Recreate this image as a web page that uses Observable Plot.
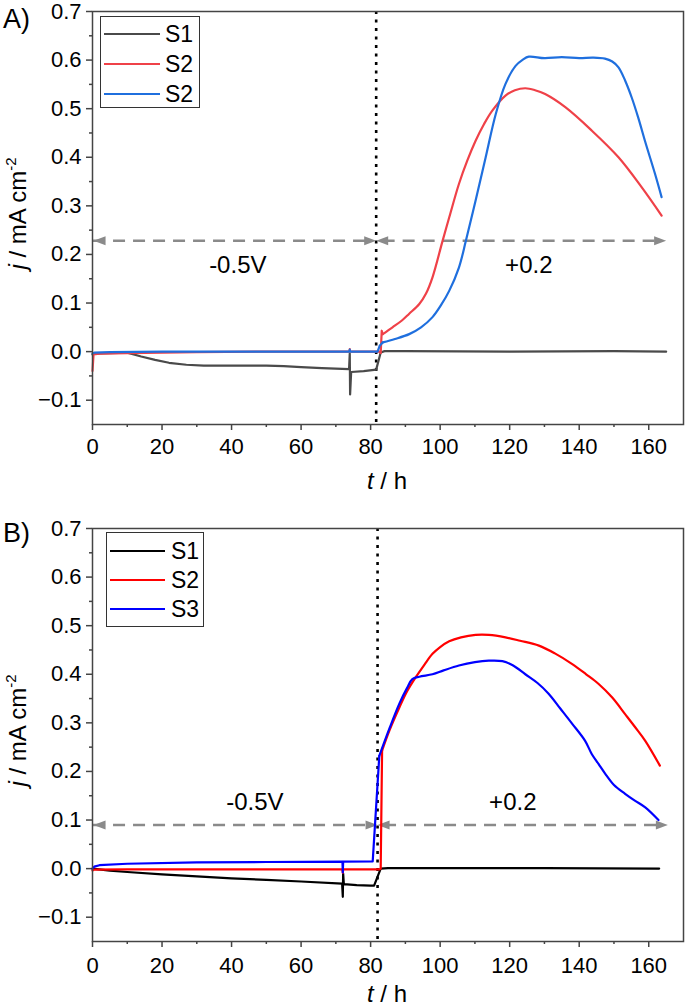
<!DOCTYPE html>
<html><head><meta charset="utf-8">
<script src="https://cdn.jsdelivr.net/npm/d3@7"></script>
<script src="https://cdn.jsdelivr.net/npm/@observablehq/plot@0.6"></script>
<style>
body{margin:0;background:#fff;font-family:"Liberation Sans",Arial,sans-serif;}
#wrap{position:relative;width:685px;height:1008px;overflow:hidden;}
.panel{position:absolute;left:0;width:685px;height:504px;}
.panel svg{overflow:visible;}
.plabel{position:absolute;left:3px;font-size:27px;line-height:1;color:#000;}
.legend{position:absolute;border:1.5px solid #333;background:#fff;box-sizing:border-box;}
.sw{position:absolute;height:2px;}
.lt{position:absolute;font-size:23px;line-height:1;transform:translateY(-50%);color:#000;}
</style></head>
<body><div id="wrap"></div>
<script>
// ---------- Panel A data ----------
const tA_S1 = [0,0.5,5,10,14,18,22,27,32,40,50,55,60,66,73.8,74,74.1,74.4,78,81.6,82.9,84,90,120,150,165];
const jA_S1 = [-0.006,-0.004,-0.003,-0.002,-0.01,-0.017,-0.023,-0.027,-0.029,-0.029,-0.029,-0.03,-0.032,-0.034,-0.036,-0.004,-0.088,-0.042,-0.04,-0.037,-0.002,0.001,0.001,0.0,0.001,0.0];
const tA_S2 = [0,0.3,2,10,30,50,73.9,74,74.1,82.5,82.9,83.2,83.5,86.3,89,91.1,94,95.9,97.8,100.7,102.6,105.4,107.8,110.2,112.6,115,118.8,121.5,124.5,127.3,130.2,136,143.6,151.3,158,163.7];
const jA_S2 = [-0.04,-0.006,-0.004,-0.003,-0.001,0,0,0.005,0,0,-0.003,0.043,0.036,0.05,0.064,0.078,0.098,0.119,0.153,0.228,0.276,0.345,0.393,0.434,0.468,0.496,0.527,0.538,0.542,0.538,0.53,0.503,0.455,0.4,0.338,0.28];
const tA_S3 = [0,0.5,5,20,50,73.9,74,74.1,82,82.6,83.5,87,91.1,94.5,97.8,100.2,102.6,105.4,107.4,110.2,113.1,116,118.8,121.7,123.8,125.5,130,135,140,144,147.4,149.5,151.3,153.2,155.1,157,158.9,161.8,163.7];
const jA_S3 = [-0.004,-0.002,-0.001,0,0,0,0.004,0,0,0.012,0.019,0.026,0.036,0.05,0.071,0.095,0.125,0.173,0.228,0.311,0.4,0.489,0.551,0.588,0.601,0.607,0.604,0.606,0.604,0.605,0.603,0.597,0.585,0.558,0.523,0.481,0.434,0.366,0.318];
const namesA = ["S1","S2","S2"];
const colorsA = ["#4a4a4a","#ef4148","#1f6fde"];
const smoothFromA = [Infinity, 83.5, 83.5];
const vlineA = 81.6;
const arrowA = {y:0.228, from:0.3, mid:81.6, to:165};
const annA = [{t:41.8, j:0.177, text:"-0.5V"},{t:125.5, j:0.177, text:"+0.2"}];

// ---------- Panel B data ----------
const tB_S1 = [0,5,10,20,30,40,50,60,71.8,72,72.1,72.3,76,80,81,82.9,85,100,130,163];
const jB_S1 = [0,-0.004,-0.007,-0.012,-0.016,-0.02,-0.023,-0.0265,-0.031,-0.058,-0.01,-0.032,-0.034,-0.035,-0.035,0,0.001,0.001,0.001,0.0];
const tB_S2 = [0,0.5,10,40,71.9,72,72.1,82.6,82.9,83.3,85.4,88.3,90.5,93,95.5,97.8,100,102.6,106,110.2,114,118.8,123,128.4,133,138,142,145.6,149.5,153.2,156,159,163.2];
const jB_S2 = [-0.004,-0.002,-0.0015,-0.0015,-0.0015,-0.009,-0.0015,-0.0015,0,0.243,0.284,0.332,0.365,0.394,0.42,0.442,0.456,0.468,0.476,0.481,0.481,0.476,0.469,0.459,0.443,0.421,0.4,0.38,0.352,0.318,0.292,0.263,0.212];
const tB_S3 = [0,0.5,2,10,30,50,71.9,72,72.1,80.6,82.5,85.5,88.3,90.5,92,94,97.8,101,105.4,110,114,117.9,121,124.5,128,131.2,134.5,138,141.7,143.6,145.6,147.5,150,153.2,156,159,162.8];
const jB_S3 = [0,0.004,0.007,0.01,0.013,0.0136,0.0143,-0.008,0.0143,0.015,0.232,0.29,0.34,0.372,0.39,0.395,0.4,0.408,0.418,0.425,0.428,0.427,0.418,0.4,0.382,0.36,0.33,0.298,0.263,0.236,0.215,0.195,0.172,0.154,0.14,0.126,0.1];
const namesB = ["S1","S2","S3"];
const colorsB = ["#000000","#ff0000","#0000ff"];
const smoothFromB = [Infinity, 83.3, 82.5];
const vlineB = 82;
const arrowB = {y:0.09, from:0.3, mid:82, to:165.5};
const annB = [{t:46.7, j:0.136, text:"-0.5V"},{t:120.9, j:0.136, text:"+0.2"}];

// ---------- Axes ----------
const xMajor = [0,20,40,60,80,100,120,140,160];
const xMinor = [10,30,50,70,90,110,130,150];
const yMajor = [-0.1,0,0.1,0.2,0.3,0.4,0.5,0.6,0.7];
const yMinor = [-0.05,0.05,0.15,0.25,0.35,0.45,0.55,0.65];

const pts = (t, j) => t.map((v, i) => ({t: v, j: j[i]}));
const arrowRight = {draw(ctx){ctx.moveTo(0,0);ctx.lineTo(-12,-4.5);ctx.lineTo(-12,4.5);ctx.closePath();}};
const arrowLeft = {draw(ctx){ctx.moveTo(0,0);ctx.lineTo(12,-4.5);ctx.lineTo(12,4.5);ctx.closePath();}};
const axisColor = "#444";

function seriesMarks(s, color, cut) {
  const data = pts(s[0], s[1]);
  const opts = {x: "t", y: "j", stroke: color, strokeWidth: 2.2, strokeLinejoin: "round", strokeLinecap: "round"};
  const marks = [Plot.line(data.filter(d => d.t <= cut), opts)];
  if (cut < Infinity) marks.push(Plot.line(data.filter(d => d.t >= cut), {...opts, curve: "catmull-rom"}));
  return marks;
}

function makePanel(cfg) {
  const series = cfg.series;
  const ar = cfg.arrow;
  const plot = Plot.plot({
    width: 685, height: 504,
    marginLeft: 92, marginRight: 2, marginTop: cfg.mt, marginBottom: cfg.mb,
    x: {domain: [0, 170]},
    y: {domain: [-0.15, 0.7]},
    style: {fontFamily: '"Liberation Sans", Arial, sans-serif', fontSize: "22px", color: "#000", background: "transparent", overflow: "visible"},
    marks: [
      Plot.axisY({ticks: yMajor, tickSize: 6, tickPadding: 5, tickFormat: d3.format(".1f"), label: null, stroke: axisColor, fill: "#000", strokeWidth: 1.5}),
      Plot.axisY({ticks: yMinor, tickSize: 3, tickFormat: () => "", label: null, stroke: axisColor, strokeWidth: 1.5}),
      Plot.axisX({ticks: xMajor, tickSize: 6, tickPadding: cfg.xpad, label: null, stroke: axisColor, fill: "#000", strokeWidth: 1.5}),
      Plot.axisX({ticks: xMinor, tickSize: 3, tickFormat: () => "", label: null, stroke: axisColor, strokeWidth: 1.5}),
      Plot.ruleX([cfg.vline], {stroke: "#000", strokeWidth: 2.6, strokeDasharray: "3,5.5"}),
      Plot.ruleY([{y: ar.y, x1: ar.from, x2: ar.mid - 2}, {y: ar.y, x1: ar.mid + 2, x2: ar.to - 2}], {y: "y", x1: "x1", x2: "x2", stroke: "#8a8a8a", strokeWidth: 2.5, strokeDasharray: "12,8"}),
      Plot.dot([{t: ar.mid, j: ar.y}, {t: ar.to, j: ar.y}], {x: "t", y: "j", symbol: arrowRight, fill: "#8a8a8a", stroke: "none"}),
      Plot.dot([{t: ar.from, j: ar.y}, {t: ar.mid, j: ar.y}], {x: "t", y: "j", symbol: arrowLeft, fill: "#8a8a8a", stroke: "none"}),
      Plot.text(cfg.ann, {x: "t", y: "j", text: "text", fontSize: 24, fill: "#000"}),
      ...series.flatMap((s, i) => seriesMarks(s, cfg.colors[i], cfg.smoothFrom[i])),
      Plot.frame({stroke: axisColor, strokeWidth: 1.5})
    ]
  });
  const svg = d3.select(plot);
  const plotBottom = 504 - cfg.mb, plotMid = (cfg.mt + plotBottom) / 2;
  const xt = svg.append("text").attr("x", 387).attr("y", plotBottom + cfg.titleOff)
    .attr("text-anchor", "middle").attr("font-size", 24).attr("fill", "#000");
  xt.append("tspan").attr("font-style", "italic").text("t");
  xt.append("tspan").text(" / h");
  const yt = svg.append("text").attr("transform", `translate(26,${plotMid - 4}) rotate(-90)`)
    .attr("text-anchor", "middle").attr("font-size", 24).attr("fill", "#000");
  yt.append("tspan").attr("font-style", "italic").text("j");
  yt.append("tspan").text(" / mA cm");
  yt.append("tspan").attr("font-size", 15).attr("dy", -10).text("-2");
  return plot;
}

function addPanel(top, cfg) {
  const div = document.createElement("div");
  div.className = "panel";
  div.style.top = top + "px";
  div.appendChild(makePanel(cfg));
  const lab = document.createElement("div");
  lab.className = "plabel";
  lab.style.top = cfg.labTop + "px";
  lab.textContent = cfg.label;
  div.appendChild(lab);
  const lg = document.createElement("div");
  lg.className = "legend";
  const L = cfg.legend;
  lg.style.left = L.left + "px"; lg.style.top = L.top + "px";
  lg.style.width = L.w + "px"; lg.style.height = L.h + "px";
  cfg.names.forEach((n, i) => {
    const sw = document.createElement("div");
    sw.className = "sw";
    sw.style.left = L.swL + "px"; sw.style.width = L.swW + "px";
    sw.style.top = (L.row0 + i * L.dy - 1) + "px";
    sw.style.background = cfg.colors[i];
    lg.appendChild(sw);
    const t = document.createElement("div");
    t.className = "lt";
    t.style.left = L.txL + "px";
    t.style.top = (L.row0 + i * L.dy) + "px";
    t.textContent = n;
    lg.appendChild(t);
  });
  div.appendChild(lg);
  document.getElementById("wrap").appendChild(div);
}

addPanel(0, {
  series: [[tA_S1, jA_S1], [tA_S2, jA_S2], [tA_S3, jA_S3]],
  colors: colorsA, names: namesA, smoothFrom: smoothFromA, vline: vlineA, arrow: arrowA, ann: annA,
  mt: 11, mb: 80, xpad: 8, titleOff: 65, label: "A)", labTop: 6,
  legend: {left: 100, top: 16, w: 100, h: 92, swL: 3, swW: 56, txL: 64, row0: 17, dy: 30}
});
addPanel(504, {
  series: [[tB_S1, jB_S1], [tB_S2, jB_S2], [tB_S3, jB_S3]],
  colors: colorsB, names: namesB, smoothFrom: smoothFromB, vline: vlineB, arrow: arrowB, ann: annB,
  mt: 24, mb: 67, xpad: 10, titleOff: 61, label: "B)", labTop: 16,
  legend: {left: 106, top: 28, w: 98, h: 95, swL: 3, swW: 55, txL: 64, row0: 18, dy: 29}
});
</script></body></html>
